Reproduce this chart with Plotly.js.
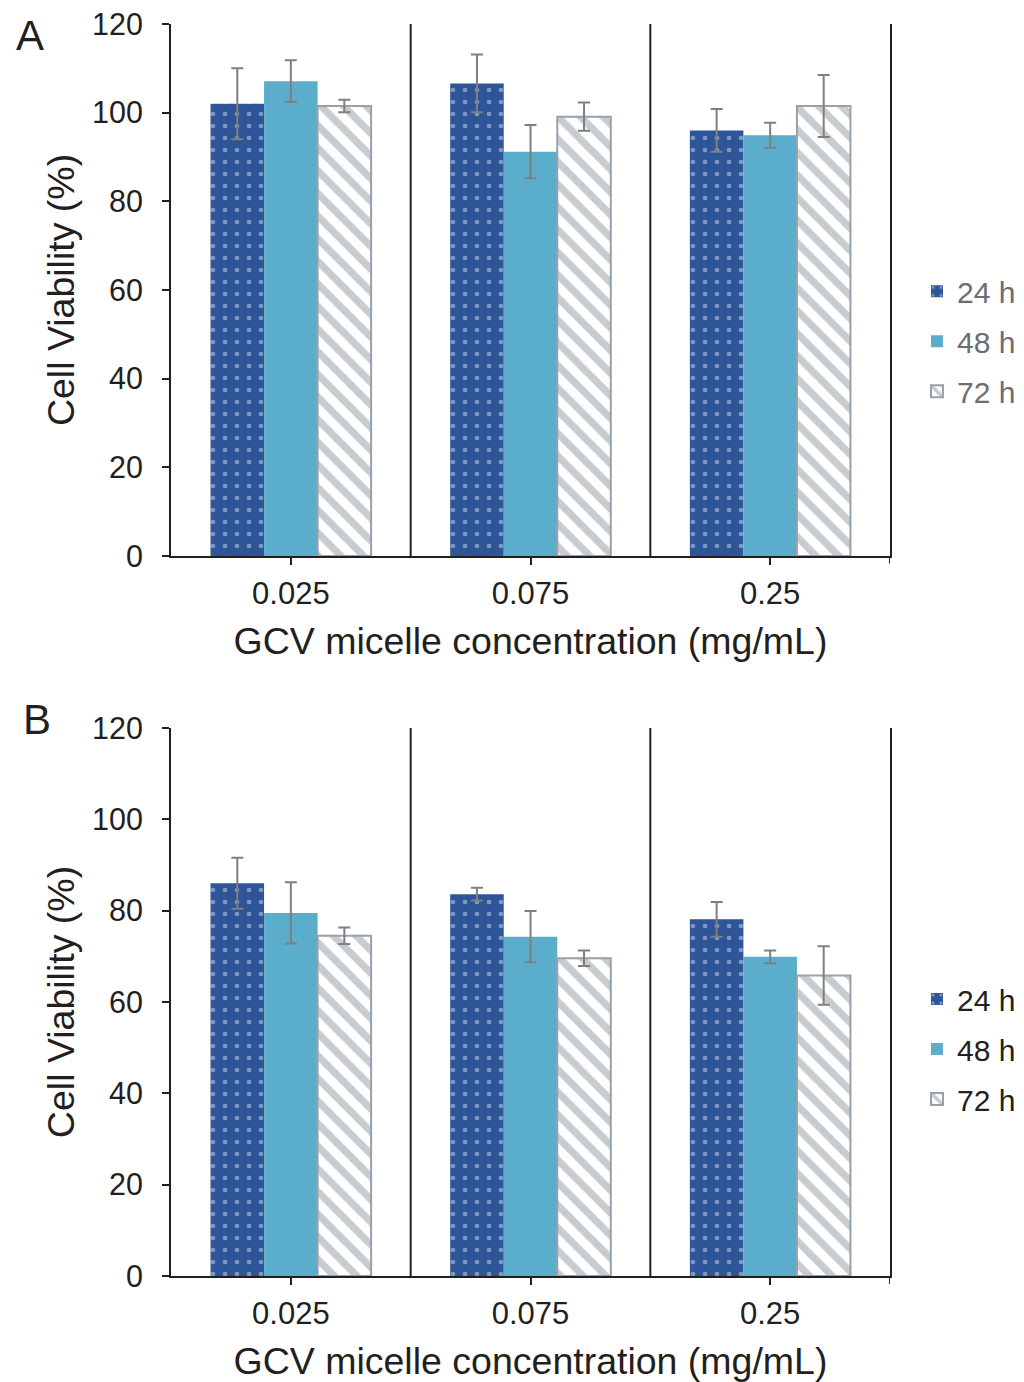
<!DOCTYPE html>
<html>
<head>
<meta charset="utf-8">
<script src="https://cdn.plot.ly/plotly-3.0.1.min.js"></script>
<style>html,body{margin:0;padding:0;background:#fff;}#chart{width:1024px;height:1382px;}</style>
</head>
<body>
<div id="chart"></div>
<script>
// Categories
const concentrations = ['0.025', '0.075', '0.25'];
const seriesNames = ['24 h', '48 h', '72 h'];

// Panel A values (cell viability %) and error
const a24 = [102.0, 106.6, 96.0];
const a24err = [8.0, 6.5, 4.8];
const a48 = [107.1, 91.2, 94.9];
const a48err = [4.7, 6.0, 2.8];
const a72 = [101.5, 99.1, 101.5];
const a72err = [1.4, 3.2, 7.0];

// Panel B values (cell viability %) and error
const b24 = [86.0, 83.6, 78.1];
const b24err = [5.6, 1.4, 3.8];
const b48 = [79.5, 74.3, 69.9];
const b48err = [6.7, 5.6, 1.4];
const b72 = [74.5, 69.6, 65.8];
const b72err = [1.8, 1.7, 6.4];

const yTicks = [0, 20, 40, 60, 80, 100, 120];

const FONT = 'Liberation Sans, Arial, sans-serif';
const errColor = '#7f7f7f';
const styles = [
  {color: '#2E5597', pattern: {shape: '.', fillmode: 'overlay', fgcolor: '#d0dbf0', size: 12, solidity: 0.12}, line: {color: '#2E5597', width: 0}},
  {color: '#5BAECB', pattern: {shape: ''}, line: {color: '#5BAECB', width: 0}},
  {color: '#ffffff', pattern: {shape: '\\', fillmode: 'overlay', fgcolor: '#8f99a3', bgcolor: '#ffffff', size: 16, solidity: 0.45}, line: {color: '#97A1AB', width: 2}}
];

function mk(vals, errs, i, xa, ya, leg) {
  return {
    type: 'bar', x: concentrations, y: vals, name: seriesNames[i],
    xaxis: xa, yaxis: ya, legend: leg, legendgroup: leg + i,
    marker: {color: styles[i].color, pattern: styles[i].pattern, line: styles[i].line},
    error_y: {type: 'data', array: errs, visible: true, color: errColor, thickness: 2, width: 6},
    hoverinfo: 'skip'
  };
}

const data = [
  mk(a24, a24err, 0, 'x', 'y', 'legend'),
  mk(a48, a48err, 1, 'x', 'y', 'legend'),
  mk(a72, a72err, 2, 'x', 'y', 'legend'),
  mk(b24, b24err, 0, 'x2', 'y2', 'legend2'),
  mk(b48, b48err, 1, 'x2', 'y2', 'legend2'),
  mk(b72, b72err, 2, 'x2', 'y2', 'legend2')
];

function xaxisDef(anchor) {
  return {
    anchor: anchor, domain: [0, 1], type: 'category', range: [-0.5, 2.5],
    showline: true, linecolor: '#231f20', linewidth: 2,
    ticks: 'outside', ticklen: 7, tickwidth: 2, tickcolor: '#231f20',
    tickfont: {family: FONT, size: 31, color: '#231f20'},
    ticklabelstandoff: 2,
    showgrid: false, zeroline: false,
    title: {text: 'GCV micelle concentration (mg/mL)', font: {family: FONT, size: 37.5, color: '#231f20'}, standoff: 18}
  };
}
function yaxisDef(anchor, dom) {
  return {
    anchor: anchor, domain: dom, range: [0, 120],
    tickvals: yTicks, ticktext: yTicks.map(String),
    showline: true, linecolor: '#231f20', linewidth: 2, mirror: true,
    ticks: 'outside', ticklen: 7, tickwidth: 2, tickcolor: '#231f20',
    tickfont: {family: FONT, size: 30.5, color: '#231f20'},
    ticklabelstandoff: 13,
    showgrid: false, zeroline: false,
    title: {text: 'Cell Viability (%)', font: {family: FONT, size: 37.5, color: '#231f20'}, standoff: 6}
  };
}

const shapes = [];
[['x', 'y domain'], ['x2', 'y2 domain']].forEach(function (r) {
  [0.5, 1.5].forEach(function (xv) {
    shapes.push({type: 'line', xref: r[0], yref: r[1], x0: xv, x1: xv, y0: 0, y1: 1, line: {color: '#231f20', width: 2}});
  });
  shapes.push({type: 'line', xref: r[0], yref: r[1], x0: 2.5, x1: 2.5, y0: -0.014, y1: 0, line: {color: '#231f20', width: 2}});
});

const layout = {
  width: 1024, height: 1382,
  margin: {l: 171, r: 134, t: 24, b: 106},
  paper_bgcolor: '#ffffff', plot_bgcolor: '#ffffff',
  font: {family: FONT, color: '#231f20'},
  barmode: 'group', bargap: 0.33, bargroupgap: 0,
  showlegend: true,
  xaxis: xaxisDef('y'),
  yaxis: yaxisDef('x', [0.5751, 1]),
  xaxis2: xaxisDef('y2'),
  yaxis2: yaxisDef('x2', [0, 0.4377]),
  legend: {xref: 'container', yref: 'container', x: 0.8955, xanchor: 'left', y: 0.753, yanchor: 'middle', bgcolor: 'rgba(0,0,0,0)',
    font: {family: FONT, size: 30, color: '#6d6e71'}, traceorder: 'grouped', tracegroupgap: 8, itemclick: false},
  legend2: {xref: 'container', yref: 'container', x: 0.8955, xanchor: 'left', y: 0.2410, yanchor: 'middle', bgcolor: 'rgba(0,0,0,0)',
    font: {family: FONT, size: 30, color: '#231f20'}, traceorder: 'grouped', tracegroupgap: 8, itemclick: false},
  shapes: shapes,
  annotations: [
    {text: 'A', xref: 'paper', yref: 'paper', x: -0.196, y: 0.9912, xanchor: 'center', yanchor: 'middle', showarrow: false, font: {family: FONT, size: 42, color: '#231f20'}},
    {text: 'B', xref: 'paper', yref: 'paper', x: -0.186, y: 0.4441, xanchor: 'center', yanchor: 'middle', showarrow: false, font: {family: FONT, size: 42, color: '#231f20'}}
  ]
};

Plotly.newPlot('chart', data, layout, {staticPlot: true, displayModeBar: false});
</script>
</body>
</html>
